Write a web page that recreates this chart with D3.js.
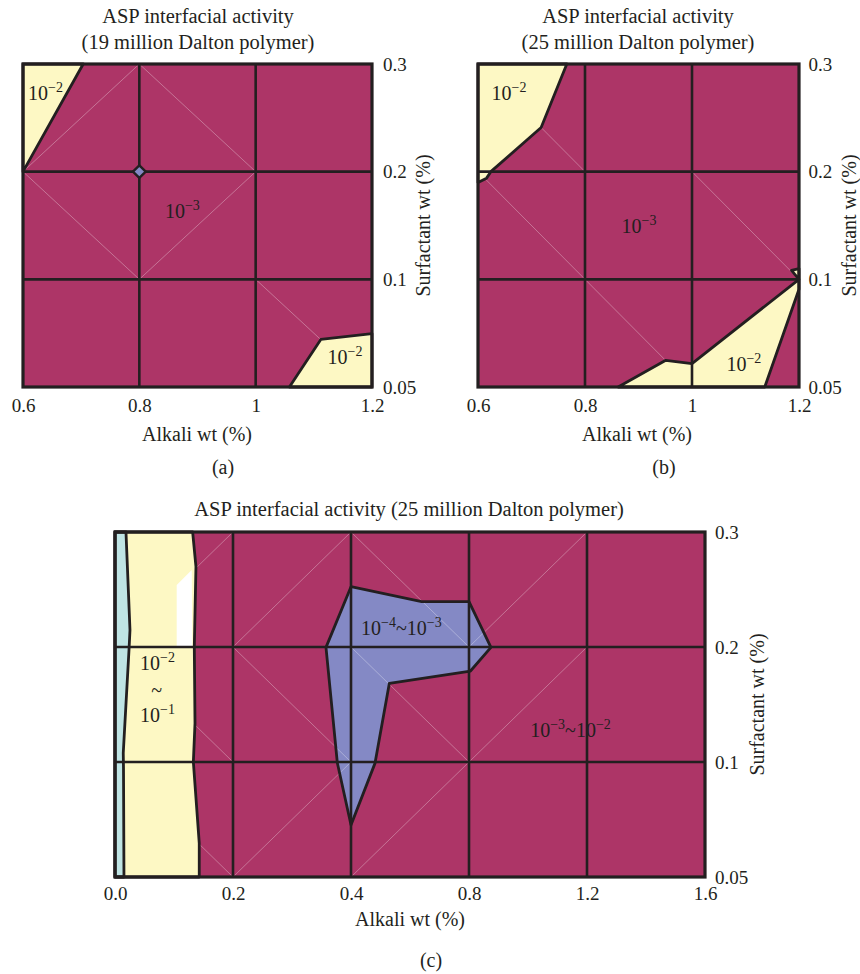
<!DOCTYPE html>
<html><head><meta charset="utf-8">
<script src="https://cdn.jsdelivr.net/npm/d3@7"></script>
<style>
body{margin:0;background:#fff}
svg{display:block}
text{font-family:"Liberation Serif","Times New Roman",serif;fill:#231f20}
</style>
</head><body>
<svg id="chart" width="860" height="974"></svg>
<script>
// ================= DATA =================
const yTicks = [0.05, 0.1, 0.2, 0.3];
const yTickLabels = ["0.05", "0.1", "0.2", "0.3"];
const xTicksAB = [0.6, 0.8, 1.0, 1.2];
const xTickLabelsAB = ["0.6", "0.8", "1", "1.2"];
const xTicksC = [0.0, 0.2, 0.4, 0.8, 1.2, 1.6];
const xTickLabelsC = ["0.0", "0.2", "0.4", "0.8", "1.2", "1.6"];

const titleA = ["ASP interfacial activity", "(19 million Dalton polymer)"];
const titleB = ["ASP interfacial activity", "(25 million Dalton polymer)"];
const titleC = ["ASP interfacial activity (25 million Dalton polymer)"];
const xAxisTitle = "Alkali wt (%)";
const yAxisTitle = "Surfactant wt (%)";

// contour regions, vertices as [alkali wt %, surfactant wt %]
const regionsA = [
  {level: "1e-2", pts: [[0.6, 0.3], [0.7035, 0.3], [0.6, 0.2]]},
  {level: "1e-2", pts: [[1.058, 0.05], [1.112, 0.0721], [1.2, 0.0748], [1.2, 0.05]]}
];
const spotsA = [
  {level: "1e-4", pts: [[0.789, 0.2], [0.8, 0.2058], [0.811, 0.2], [0.8, 0.1942]]}
];
const regionsB = [
  {level: "1e-2", pts: [[0.6, 0.3], [0.766, 0.3], [0.718, 0.241], [0.624, 0.2], [0.616, 0.194], [0.6, 0.19]]},
  {level: "1e-2", pts: [[0.862, 0.05], [0.951, 0.0624], [1.0, 0.0609], [1.2, 0.1], [1.2, 0.0954], [1.136, 0.05]]},
  {level: "1e-2", pts: [[1.2, 0.1], [1.186, 0.1083], [1.2, 0.11]]}
];
const regionsC = [
  {level: "1e-4", pts: [[0.4, 0.2524], [0.6396, 0.2394], [0.8, 0.2394], [0.8744, 0.1997], [0.805, 0.1791],
                        [0.53, 0.1684], [0.4812, 0.0994], [0.4, 0.0726], [0.3768, 0.0997], [0.3576, 0.1997]]},
  {level: "1e-2", pts: [[0, 0.3], [0.1316, 0.3], [0.1372, 0.2698], [0.1344, 0.2], [0.1356, 0.1337],
                        [0.1328, 0.1], [0.1428, 0.0647], [0.1428, 0.05], [0, 0.05]]},
  {level: "gap", pts: [[0.1046, 0.2], [0.1046, 0.2539], [0.13, 0.267], [0.131, 0.2]]},
  {level: "1e-1", pts: [[0, 0.3], [0.0186, 0.3], [0.0254, 0.2148], [0.024, 0.2], [0.014, 0.1078],
                        [0.0144, 0.0974], [0.0152, 0.05], [0, 0.05]]}
];

// faint triangulation mesh edges
const meshA = [[[0.6, 0.2], [0.8, 0.3]], [[0.8, 0.3], [1.0, 0.2]], [[0.6, 0.2], [0.8, 0.1]],
               [[0.8, 0.1], [1.0, 0.2]], [[1.0, 0.1], [1.2, 0.05]]];
const meshB = [[[0.6, 0.3], [0.8, 0.2]], [[1.0, 0.2], [1.2, 0.1]], [[0.6, 0.2], [0.8, 0.1]],
               [[0.8, 0.1], [1.0, 0.05]]];
const meshC = [[[0, 0.2], [0.2, 0.3]], [[0.2, 0.2], [0.4, 0.3]], [[0.4, 0.3], [0.8, 0.2]], [[0.8, 0.2], [1.2, 0.3]],
               [[0, 0.2], [0.2, 0.1]], [[0.2, 0.2], [0.4, 0.1]], [[0.4, 0.2], [0.8, 0.1]], [[0.8, 0.1], [1.2, 0.2]],
               [[0, 0.1], [0.2, 0.05]], [[0.2, 0.05], [0.4, 0.1]], [[0.4, 0.05], [0.8, 0.1]]];

// region annotations: [alkali, surfactant] anchor, parts [base, exponent]
const labelsA = [
  {at: [0.6386, 0.2667], parts: [["10", "−2"]]},
  {at: [0.874, 0.1573], parts: [["10", "−3"]]},
  {at: [1.1537, 0.0605], parts: [["10", "−2"]]}
];
const labelsB = [
  {at: [0.658, 0.2667], parts: [["10", "−2"]]},
  {at: [0.901, 0.1434], parts: [["10", "−3"]]},
  {at: [1.097, 0.0573], parts: [["10", "−2"]]}
];
const labelsC = [
  {at: [0.072, 0.18], parts: [["10", "−2"]]},
  {at: [0.0707, 0.1565], parts: [["~", ""]]},
  {at: [0.072, 0.135], parts: [["10", "−1"]]},
  {at: [0.571, 0.2104], parts: [["10", "−4"], ["~10", "−3"]]},
  {at: [1.144, 0.1217], parts: [["10", "−3"], ["~10", "−2"]]}
];

// ================= DRAW =================
const INK = "#231f20";
const fillOf = {"1e-1": "#bfe4e4", "1e-2": "#fdf8c4", "1e-3": "#ad3567", "1e-4": "#8489c5", "gap": "#ffffff"};
const svg = d3.select("#chart");

function drawPanel(p) {
  const g = svg.append("g");
  const nX = p.xTicks.length, nY = yTicks.length;
  const x = d3.scaleLinear().domain(p.xTicks)
    .range(p.xTicks.map((d, i) => p.left + i * (p.right - p.left) / (nX - 1)));
  const y = d3.scaleLinear().domain(yTicks)
    .range(yTicks.map((d, i) => p.bottom - i * (p.bottom - p.top) / (nY - 1)));
  const line = d3.line().x(d => x(d[0])).y(d => y(d[1]));

  g.append("rect").attr("x", p.left).attr("y", p.top)
    .attr("width", p.right - p.left).attr("height", p.bottom - p.top)
    .attr("fill", fillOf["1e-3"]);

  const under = p.regions.filter(r => r.level === "1e-4");
  const over = p.regions.filter(r => r.level !== "1e-4");

  g.selectAll(".under").data(under).join("path")
    .attr("d", r => line(r.pts) + "Z").attr("fill", r => fillOf[r.level]);

  g.selectAll(".mesh").data(p.mesh).join("path")
    .attr("d", d => line(d)).attr("fill", "none")
    .attr("stroke", "#ffffff").attr("stroke-opacity", 0.45).attr("stroke-width", 0.7);

  g.selectAll(".over").data(over).join("path")
    .attr("d", r => line(r.pts) + "Z").attr("fill", r => fillOf[r.level]);

  // contour outlines
  g.selectAll(".outline").data(p.regions.filter(r => r.level !== "gap")).join("path")
    .attr("d", r => line(r.pts) + "Z").attr("fill", "none")
    .attr("stroke", INK).attr("stroke-width", 2.8).attr("stroke-linejoin", "round");

  // grid lines at ticks
  g.selectAll(".gx").data(p.xTicks.slice(1, -1)).join("line")
    .attr("x1", d => x(d)).attr("x2", d => x(d)).attr("y1", p.top).attr("y2", p.bottom)
    .attr("stroke", INK).attr("stroke-width", 2.6);
  g.selectAll(".gy").data(yTicks.slice(1, -1)).join("line")
    .attr("y1", d => y(d)).attr("y2", d => y(d)).attr("x1", p.left).attr("x2", p.right)
    .attr("stroke", INK).attr("stroke-width", 2.6);

  (p.spots || []).forEach(r => {
    g.append("path").attr("d", line(r.pts) + "Z").attr("fill", fillOf[r.level])
      .attr("stroke", INK).attr("stroke-width", 2.4).attr("stroke-linejoin", "round");
  });

  g.append("rect").attr("x", p.left).attr("y", p.top)
    .attr("width", p.right - p.left).attr("height", p.bottom - p.top)
    .attr("fill", "none").attr("stroke", INK).attr("stroke-width", 3.2);

  // axes
  const ax = g.append("g").attr("transform", `translate(0,${p.bottom})`)
    .call(d3.axisBottom(x).tickValues(p.xTicks).tickFormat((d, i) => p.xLabels[i])
      .tickSize(0).tickPadding(p.xPad));
  const ay = g.append("g").attr("transform", `translate(${p.right},0)`)
    .call(d3.axisRight(y).tickValues(yTicks).tickFormat((d, i) => yTickLabels[i])
      .tickSize(0).tickPadding(p.yPad));
  [ax, ay].forEach(a => {
    a.select(".domain").remove();
    a.attr("font-family", null).attr("font-size", null);
    a.selectAll("text").attr("font-size", 19).attr("fill", INK)
      .style("font-family", '"Liberation Serif", serif');
  });

  // titles
  p.titles.forEach((t, i) => {
    g.append("text").attr("x", p.titleX).attr("y", p.titleY + i * 25.5)
      .attr("text-anchor", "middle").attr("font-size", 20.5).text(t);
  });
  g.append("text").attr("x", p.xTitleX).attr("y", p.xTitleY).attr("text-anchor", "middle")
    .attr("font-size", 20).text(xAxisTitle);
  g.append("text").attr("transform", `translate(${p.yTitleX},${(p.top + p.bottom) / 2}) rotate(-90)`)
    .attr("text-anchor", "middle").attr("font-size", 20).text(yAxisTitle);
  g.append("text").attr("x", p.subX).attr("y", p.subY).attr("text-anchor", "middle")
    .attr("font-size", 20).text(p.sub);

  // region annotations
  p.labels.forEach(l => {
    const t = g.append("text").attr("x", x(l.at[0])).attr("y", y(l.at[1]))
      .attr("text-anchor", "middle").attr("font-size", 20);
    let raised = false;
    l.parts.forEach(([base, exp]) => {
      t.append("tspan").attr("dy", raised ? 8 : 0).attr("font-size", 20).text(base);
      raised = false;
      if (exp) {
        t.append("tspan").attr("dy", -8).attr("font-size", 14).text(exp);
        raised = true;
      }
    });
  });
}

drawPanel({left: 23, right: 372, top: 64, bottom: 387,
  xTicks: xTicksAB, xLabels: xTickLabelsAB, regions: regionsA, spots: spotsA, mesh: meshA, labels: labelsA,
  titles: titleA, titleX: 198, titleY: 23, xTitleX: 197, xTitleY: 441, yTitleX: 430,
  sub: "(a)", subX: 223, subY: 474, xPad: 11.5, yPad: 11});

drawPanel({left: 478, right: 799, top: 64, bottom: 387,
  xTicks: xTicksAB, xLabels: xTickLabelsAB, regions: regionsB, mesh: meshB, labels: labelsB,
  titles: titleB, titleX: 638, titleY: 23, xTitleX: 637, xTitleY: 441, yTitleX: 856,
  sub: "(b)", subX: 664, subY: 474, xPad: 11.5, yPad: 9.5});

drawPanel({left: 115, right: 705, top: 532, bottom: 877,
  xTicks: xTicksC, xLabels: xTickLabelsC, regions: regionsC, mesh: meshC, labels: labelsC,
  titles: titleC, titleX: 409, titleY: 516, xTitleX: 410, xTitleY: 926, yTitleX: 764,
  sub: "(c)", subX: 431, subY: 967, xPad: 9.5, yPad: 10});
</script>
</body></html>
